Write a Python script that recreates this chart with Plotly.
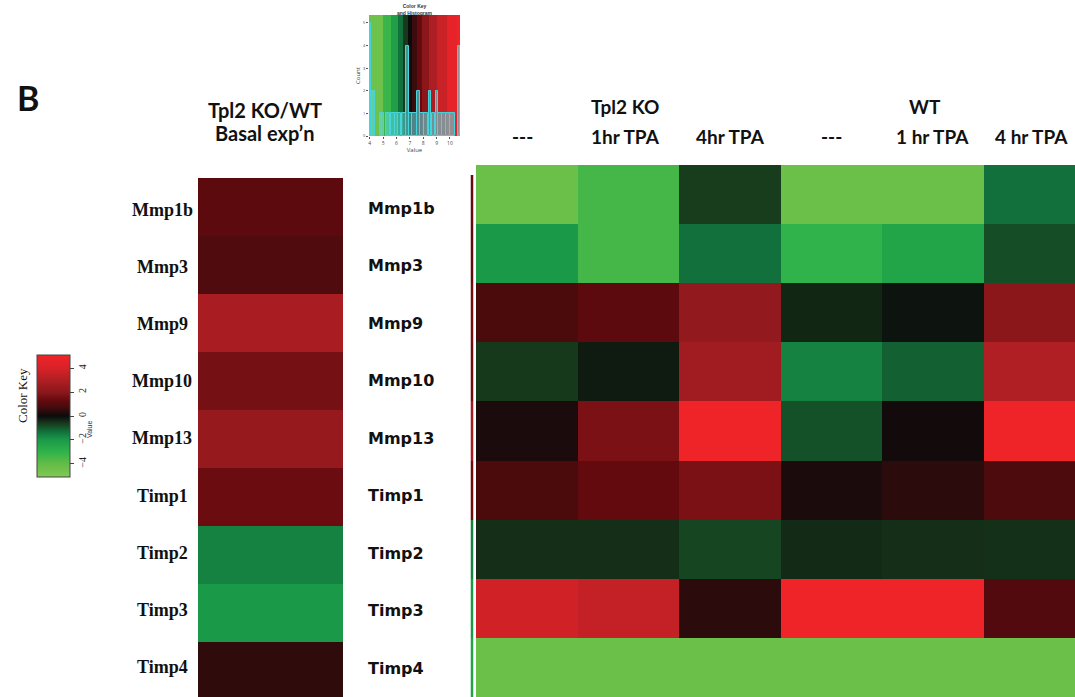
import plotly.graph_objects as go

# ---------------- data ----------------
genes = ["Mmp1b", "Mmp3", "Mmp9", "Mmp10", "Mmp13", "Timp1", "Timp2", "Timp3", "Timp4"]

basal_ratio = [1.15, 0.95, 2.8, 1.6, 2.3, 1.4, -1.6, -2.0, 0.45]

side_strip = [1.3, 1.2, 1.5, 1.4, 2.6, 1.4, -1.6, -2.0, -2.4]

conditions = ["KO ---", "KO 1hr TPA", "KO 4hr TPA", "WT ---", "WT 1 hr TPA", "WT 4 hr TPA"]
tpa_values = [
    [-4.3, -3.4, -0.65, -4.3, -4.3, -1.3],
    [-2.0, -3.4, -1.3, -3.0, -2.4, -0.85],
    [0.85, 1.15, 2.2, -0.35, -0.1, 2.0],
    [-0.6, -0.2, 2.6, -1.6, -1.1, 3.0],
    [0.2, 1.7, 5.0, -0.9, 0.1, 5.0],
    [0.85, 1.25, 1.7, 0.2, 0.4, 0.9],
    [-0.45, -0.45, -0.75, -0.4, -0.45, -0.48],
    [3.8, 3.5, 0.4, 5.0, 5.0, 1.0],
    [-4.3, -4.3, -4.3, -4.3, -4.3, -4.3],
]

# histogram in the top colour key
hist_center = [4.02, 4.25, 4.85, 5.0, 5.35, 5.75, 6.0, 6.25, 6.55, 6.85, 7.05, 7.35,
               7.65, 7.9, 8.2, 8.5, 8.75, 9.02, 9.25, 9.55, 9.85, 10.2, 10.7]
hist_count = [5, 2, 1, 1, 1, 1, 1, 1, 1, 4, 1, 1, 2, 1, 1, 2, 1, 2, 1, 1, 1, 1, 4]
key_band_edges = [3.95, 5.0, 5.6, 6.1, 6.5, 6.85, 7.15, 7.5, 7.9, 8.4, 9.0, 9.8, 10.5, 10.75]
key_band_vals = [-4.4, -3.2, -2.2, -1.3, -0.6, 0.0, 0.6, 1.3, 2.0, 2.9, 3.6, 4.6, 5.0]
key_ticks = [4, 5, 6, 7, 8, 9, 10]
count_ticks = [0, 1, 2, 3, 4, 5]

value_ticks = [-4, -2, 0, 2, 4]

# ---------------- style ----------------
W, H = 1075, 697
CMIN, CMAX = -5.1, 5.1
stops = [(-5.1, "#82c955"), (-4, "#63bc46"), (-3, "#2fb34a"), (-2, "#1a9a48"),
         (-1.3, "#11703c"), (-0.6, "#17391b"), (0, "#0b0b0b"), (0.6, "#3c0b0d"),
         (1.3, "#650a0e"), (2, "#8b171b"), (3, "#b01f24"), (4, "#d82228"), (5.1, "#f02428")]
colorscale = [[(v - CMIN) / (CMAX - CMIN), c] for v, c in stops]
hist_widths = [0.12, 0.3, 0.15, 0.15, 0.3, 0.3, 0.2, 0.25, 0.3, 0.2, 0.2, 0.3,
               0.2, 0.25, 0.3, 0.2, 0.25, 0.15, 0.25, 0.3, 0.3, 0.35, 0.15]


def fx(p):
    return p / W


def fy(p):
    return 1 - p / H


fig = go.Figure()

rows = list(range(len(genes)))

# left heatmap (single column)
fig.add_trace(go.Heatmap(z=[[v] for v in basal_ratio], x=[0], y=rows,
                         coloraxis="coloraxis", xaxis="x", yaxis="y",
                         hovertext=[[g] for g in genes]))
# thin strip
fig.add_trace(go.Heatmap(z=[[v] for v in side_strip], x=[0], y=rows,
                         coloraxis="coloraxis", xaxis="x2", yaxis="y2"))
# right heatmap
fig.add_trace(go.Heatmap(z=tpa_values, x=list(range(len(conditions))), y=rows,
                         coloraxis="coloraxis", xaxis="x3", yaxis="y3"))
# top colour key gradient + histogram
fig.add_trace(go.Heatmap(z=[key_band_vals], x=key_band_edges, y=[0, 5.35],
                         coloraxis="coloraxis", xaxis="x4", yaxis="y4"))
fig.add_trace(go.Bar(x=hist_center, y=hist_count, width=hist_widths,
                     marker=dict(color="rgba(90,215,220,0.6)",
                                 line=dict(color="#45d3dc", width=1)),
                     xaxis="x4", yaxis="y4", showlegend=False))

hidden = dict(visible=False, showgrid=False, zeroline=False)
left_top = 178
row_h_left = 58
right_top = 165
row_h_right = (H - right_top) / 9.0
col_w = 101.5

fig.update_layout(
    width=W, height=H, margin=dict(l=0, r=0, t=0, b=0, autoexpand=False),
    paper_bgcolor="white", plot_bgcolor="white", showlegend=False,
    coloraxis=dict(
        colorscale=colorscale, cmin=CMIN, cmax=CMAX,
        colorbar=dict(x=fx(37), xanchor="left", xpad=0, y=fy(416), yanchor="middle",
                      ypad=0, len=122, lenmode="pixels", thickness=33,
                      thicknessmode="pixels", outlinewidth=1, outlinecolor="#444",
                      tickvals=value_ticks, ticktext=[str(t).replace("-", "−") for t in value_ticks],
                      ticks="outside", ticklen=4, tickcolor="#444", tickangle=-90,
                      tickfont=dict(family="Liberation Serif", size=10, color="#222")),
    ),
    xaxis=dict(domain=[fx(198), fx(343)], range=[-0.5, 0.5], anchor="y", **hidden),
    yaxis=dict(domain=[0, fy(left_top)], range=[-0.5 + (H - left_top) / row_h_left, -0.5],
               anchor="x", **hidden),
    xaxis2=dict(domain=[fx(470.5), fx(473.5)], range=[-0.5, 0.5], anchor="y2", **hidden),
    yaxis2=dict(domain=[0, fy(175)], range=[8.5, -0.5 + (175 - right_top) / row_h_right],
                anchor="x2", **hidden),
    xaxis3=dict(domain=[fx(476), 1], range=[-0.5, -0.5 + (W - 476) / col_w], anchor="y3", **hidden),
    yaxis3=dict(domain=[0, fy(right_top)], range=[8.5, -0.5], anchor="x3", **hidden),
    xaxis4=dict(domain=[fx(369), fx(460)], range=[3.95, 10.75], anchor="y4",
                showgrid=False, zeroline=False,
                tickvals=key_ticks, ticks="outside", ticklen=2, tickcolor="#555",
                tickfont=dict(size=5, color="#444"), showline=False,
                title=dict(text="Value", font=dict(size=6, color="#444"), standoff=1)),
    yaxis4=dict(domain=[fy(136), fy(15)], range=[0, 5.35], anchor="x4",
                showgrid=False, zeroline=False,
                tickvals=count_ticks, ticks="outside", ticklen=2, tickcolor="#555",
                tickfont=dict(size=4, color="#444"),
                title=dict(text="Count", font=dict(size=6, color="#444"), standoff=1)),
    bargap=0,
)

ann = []


def add(text, x, y, size, family, xanchor="center", angle=0, color="#111"):
    ann.append(dict(text=text, x=fx(x), y=fy(y), xref="paper", yref="paper",
                    showarrow=False, xanchor=xanchor, yanchor="middle", textangle=angle,
                    font=dict(size=size, family=family, color=color)))


add("<b>B</b>", 28, 97, 34, "Lato")
add("<b>Tpl2 KO/WT</b>", 265, 110, 20, "Lato")
add("<b>Basal exp’n</b>", 265, 133, 20, "Lato")
add("<b>---</b>", 522, 137, 19, "Lato")
add("<b>Tpl2 KO</b>", 625, 106, 19, "Lato")
add("<b>1hr TPA</b>", 625, 137, 19, "Lato")
add("<b>4hr TPA</b>", 730, 137, 19, "Lato")
add("<b>---</b>", 831, 137, 19, "Lato")
add("<b>WT</b>", 925, 106, 19, "Lato")
add("<b>1 hr TPA</b>", 932, 137, 19, "Lato")
add("<b>4 hr TPA</b>", 1031, 137, 19, "Lato")
add("<b>Color Key<br>and Histogram</b>", 415, 9, 5, "Liberation Sans", color="#333")
add("Color Key", 22, 395, 13, "Liberation Serif", angle=-90)
add("Value", 89, 430, 7, "Liberation Sans", angle=-90, color="#333")

for i, g in enumerate(genes):
    ann.append(dict(text="<b>%s</b>" % g, x=fx(162), y=i, xref="paper", yref="y",
                    yshift=-3 + 0.9 * i, showarrow=False, xanchor="center", yanchor="middle",
                    font=dict(size=18, family="Liberation Serif", color="#111")))
    ann.append(dict(text="<b>%s</b>" % g, x=fx(366), y=i, xref="paper", yref="y",
                    yshift=-1 + 0.5 * i, showarrow=False, xanchor="left", yanchor="middle",
                    font=dict(size=16, family="DejaVu Sans", color="#111")))

fig.update_layout(annotations=ann)
fig.write_html("out.html", config={"displayModeBar": False},
               post_script="document.body.style.margin='0';document.body.style.overflow='hidden';")
